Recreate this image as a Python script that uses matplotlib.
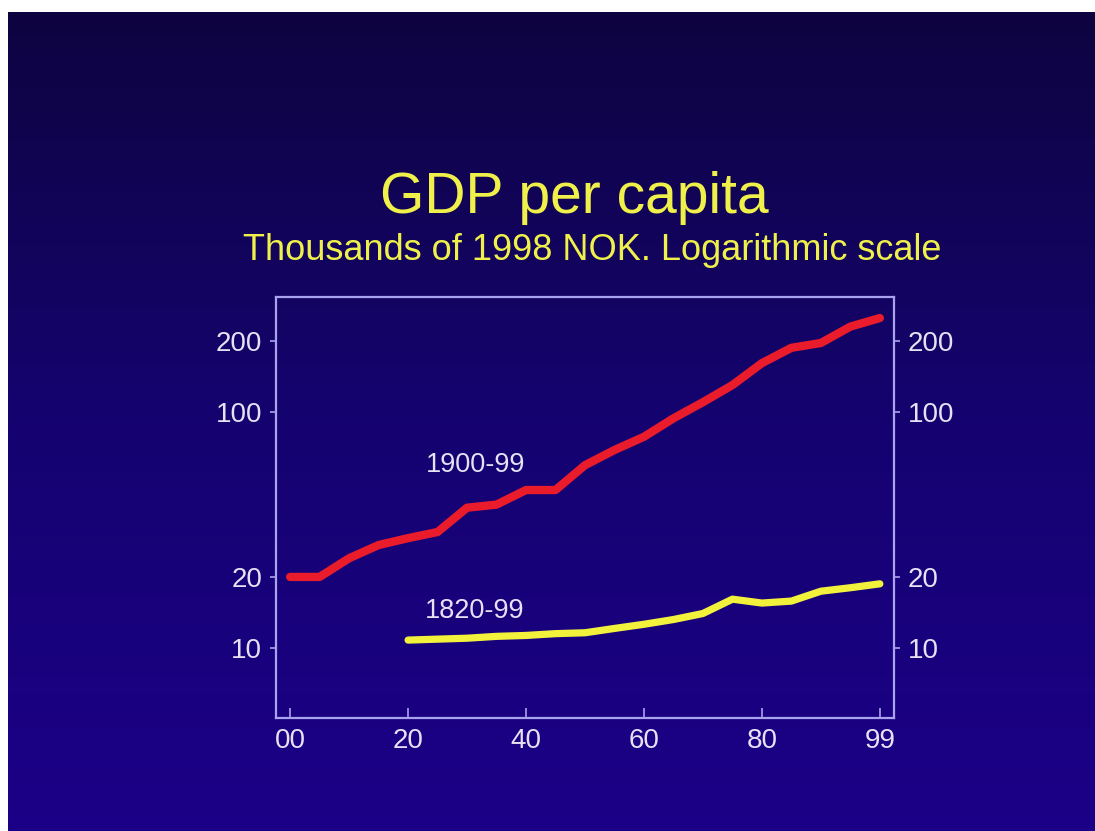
import numpy as np
import matplotlib
matplotlib.use("Agg")
import matplotlib.pyplot as plt
from matplotlib.colors import LinearSegmentedColormap

plt.rcParams['font.family'] = ['Liberation Sans', 'DejaVu Sans']

# GDP per capita, thousands of 1998 NOK; x runs along the axis in 20-step units,
# with the final observation ("99") sitting at the end of the last interval
years_1900 = [0, 5, 10, 15, 20, 25, 30, 35, 40, 45, 50, 55, 60, 65, 70, 75, 80, 85, 90, 95, 100]
gdp_1900 = [20, 20, 24, 27.3, 29.2, 31, 39.3, 40.5, 46.7, 46.7, 59.5, 69, 78.5, 94, 110, 130, 161, 187, 196, 230, 250]

years_1820 = [20, 25, 30, 35, 40, 45, 50, 55, 60, 65, 70, 75, 80, 85, 90, 95, 100]
gdp_1820 = [10.8, 10.9, 11.0, 11.2, 11.3, 11.5, 11.6, 12.1, 12.6, 13.2, 14.0, 16.1, 15.5, 15.8, 17.4, 18.0, 18.7]

x_ticks = [0, 20, 40, 60, 80, 100]
x_ticklabels = ["00", "20", "40", "60", "80", "99"]
y_ticks = [10, 20, 100, 200]
y_ticklabels = ["10", "20", "100", "200"]

W, H = 1095, 831
fig = plt.figure(figsize=(W / 100, H / 100), dpi=100)
fig.patch.set_facecolor("white")

# slide background with vertical gradient
bg = fig.add_axes([8 / W, 0, 1 - 8 / W, 1 - 12 / H])
cmap = LinearSegmentedColormap.from_list("slide", ["#0e0440", "#150370", "#1c0088"])
grad = np.linspace(0, 1, 256).reshape(-1, 1)
bg.imshow(grad, aspect="auto", cmap=cmap, extent=[0, 1, 0, 1], origin="upper")
bg.set_axis_off()

axis_col = "#a9a2ee"
label_col = "#e6e2f4"
text_yellow = "#f0f04a"

ax = fig.add_axes([276 / W, 1 - 718 / H, (894 - 276) / W, (718 - 297) / H])
ax.patch.set_alpha(0)
ax.set_yscale("log")
ax.set_xlim(-2.4, 102.4)
ax.set_ylim(5.05, 307)

ax.plot(years_1900, gdp_1900, color="#ea1c2c", lw=6.0, solid_capstyle="round", solid_joinstyle="round")
ax.plot(years_1820, gdp_1820, color="#f2f23c", lw=5.2, solid_capstyle="round", solid_joinstyle="round")

ax.text(31.5, 59.5, "1900-99", color=label_col, fontsize=19.5, ha="center", va="center")
ax.text(31.3, 14.3, "1820-99", color=label_col, fontsize=19.5, ha="center", va="center")

for s in ax.spines.values():
    s.set_color(axis_col)
    s.set_linewidth(1.6)

ax.yaxis.set_minor_locator(matplotlib.ticker.NullLocator())
ax.set_yticks(y_ticks)
ax.set_yticklabels(y_ticklabels)
ax.set_xticks(x_ticks)
ax.set_xticklabels(x_ticklabels)
ax.tick_params(axis="y", which="both", direction="out", length=4, width=1.2, color=axis_col,
               labelcolor=label_col, labelsize=20, pad=6, left=True, right=True,
               labelleft=True, labelright=True)
ax.tick_params(axis="x", direction="in", length=7, width=1.2, color=axis_col,
               labelcolor=label_col, labelsize=20, pad=7)

fig.text(574 / W, 1 - 198 / H, "GDP per capita", color=text_yellow, fontsize=41,
         ha="center", va="center")
fig.text(592 / W, 1 - 250 / H, "Thousands of 1998 NOK. Logarithmic scale", color=text_yellow,
         fontsize=26, ha="center", va="center")

fig.savefig("out.png", dpi=100, facecolor=fig.get_facecolor())
